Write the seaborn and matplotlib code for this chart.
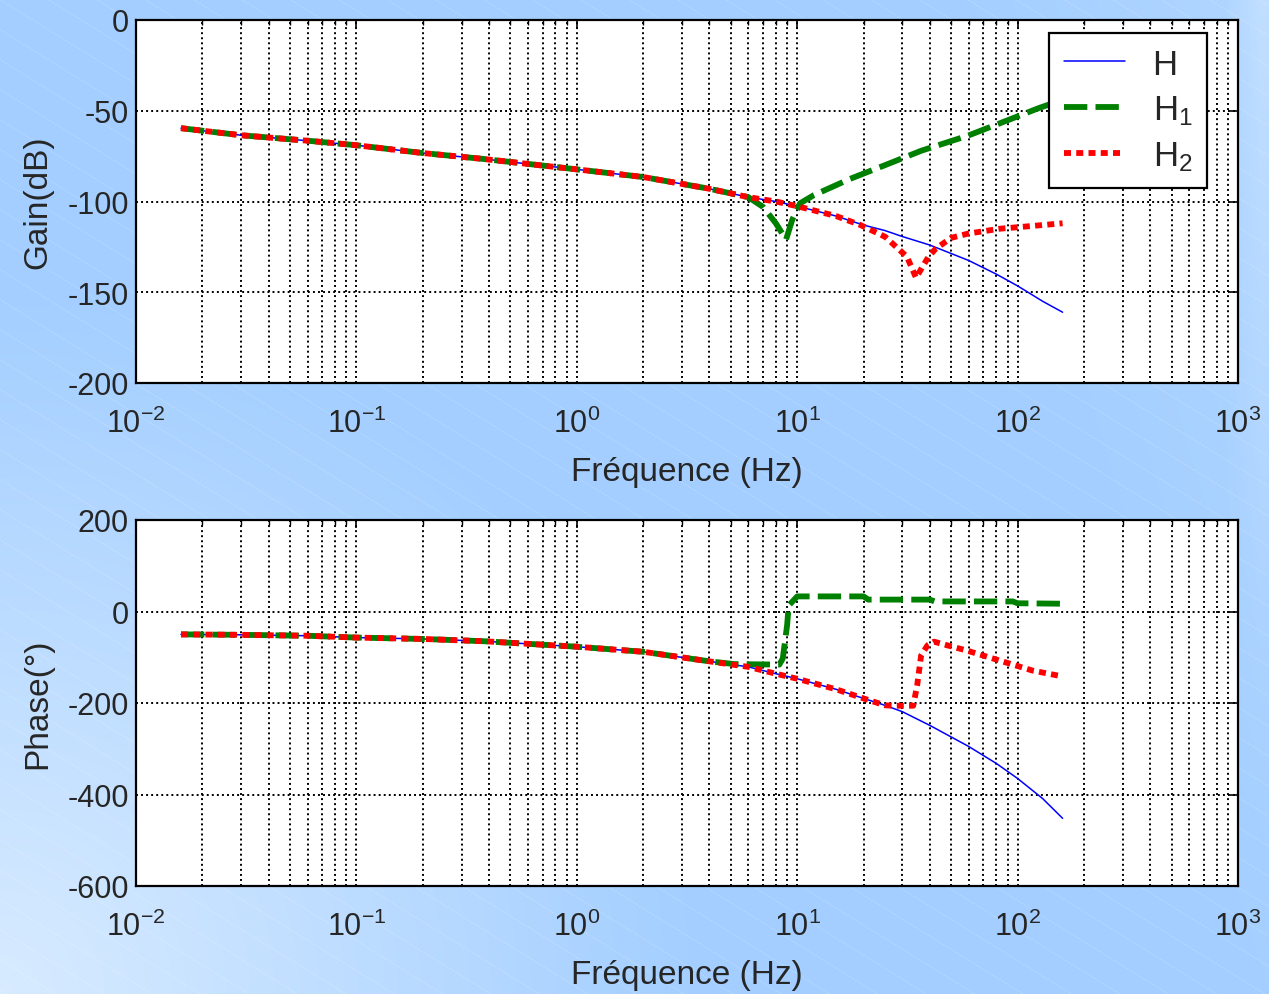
import numpy as np
import matplotlib
matplotlib.use("Agg")
import matplotlib.pyplot as plt
import matplotlib.ticker as mticker
import seaborn as sns

# --- données ---
freq_h = [0.016, 0.03, 0.06, 0.1, 0.2, 0.38, 1, 2, 4, 6, 8, 10, 15, 20, 25, 30, 40, 60, 80, 100, 130, 160]
gain_h = [-59.6, -63.5, -66.5, -69, -73.3, -76.6, -82.3, -86.5, -93, -97.6, -100, -102.6, -108, -113, -116,
          -119.3, -124, -132.5, -140, -146.5, -155, -161]
phase_h = [-50, -51, -53, -57, -60, -65, -77, -88, -109, -121, -136, -147, -170, -190, -205,
           -219, -249, -295, -332, -365, -409, -452]

freq_h1_gain = [0.016, 0.03, 0.06, 0.1, 0.2, 0.38, 1, 2, 4, 6, 7, 8, 8.9, 9.5, 10.3, 11.9, 17.4, 25, 36.6,
                59.6, 93, 125, 160]
gain_h1 = [-59.6, -63.5, -66.5, -69, -73.3, -76.6, -82.3, -86.5, -93, -97.6, -103, -112, -121, -110, -101,
           -96.5, -87.5, -80, -72, -63.7, -54.6, -48.5, -44]

freq_h2_gain = [0.016, 0.03, 0.06, 0.1, 0.2, 0.38, 1, 2, 4, 6, 8, 10, 15, 19.4, 25.1, 31.5, 34.6, 39.4,
                42.5, 50, 59.6, 83, 104, 160]
gain_h2 = [-59.6, -63.5, -66.5, -69, -73.3, -76.6, -82.3, -86.5, -93, -97.6, -100, -102.6, -108, -113,
           -119.5, -130.5, -142, -130.5, -126, -120, -117.7, -115, -114, -112]

freq_h1_phase = [0.016, 0.03, 0.06, 0.1, 0.2, 0.38, 1, 2, 4, 5.2, 8.3, 8.6, 9.0, 9.15, 10, 20, 21, 40, 42,
                 95, 100, 160]
phase_h1 = [-50, -51, -53, -57, -60, -65, -77, -88, -109, -115, -116, -103, -30, 13, 33, 33, 26, 26, 22,
            22, 18, 17]

freq_h2_phase = [0.016, 0.03, 0.06, 0.1, 0.2, 0.38, 1, 2, 4, 6, 8, 10, 15, 20, 25, 27, 33.6, 35, 36.5,
                 39, 41.8, 48, 58.5, 82.6, 116.6, 160]
phase_h2 = [-50, -51, -53, -57, -60, -65, -77, -88, -109, -121, -136, -147, -170, -190, -205, -206, -206,
            -162, -96, -74, -66, -74, -85, -107, -129, -142]

labels = ['H', r'H$_1$', r'H$_2$']

sns.set_style("white")
plt.rcParams['font.family'] = ['Liberation Sans', 'DejaVu Sans']
plt.rcParams['mathtext.fontset'] = 'custom'
plt.rcParams['mathtext.rm'] = 'Liberation Sans'
plt.rcParams['mathtext.it'] = 'Liberation Sans'
plt.rcParams['mathtext.default'] = 'regular'
plt.rcParams['axes.unicode_minus'] = False

W, H = 1269, 995
fig = plt.figure(figsize=(W / 100, H / 100), dpi=100)

# fond dégradé bleu avec fines rayures diagonales
yy, xx = np.mgrid[0:H, 0:W].astype(float)
base = np.array([0.64, 0.81, 1.0])
light = np.array([0.87, 0.935, 1.0])
d_bl = np.sqrt(xx ** 2 + (H - yy) ** 2)
t = np.clip(1 - d_bl / 700, 0, 1) * 0.9
t = np.maximum(t, np.clip((xx - 1200) / 60, 0, 1) * 0.5 * np.clip(1 - yy / 900, 0, 1))
t = np.maximum(t, np.clip((xx + (H - yy) * 0.3 - 1250) / 400, 0, 1) * 0.3)
img = base * (1 - t[..., None]) + light * t[..., None]
stripes = (np.mod(yy - 0.62 * xx, 30) < 1.0).astype(float)
img = img * (1 - 0.15 * stripes[..., None]) + 0.15 * stripes[..., None]
bg = fig.add_axes([0, 0, 1, 1], zorder=-10)
bg.imshow(img, aspect='auto', extent=[0, 1, 0, 1], interpolation='bilinear')
bg.axis('off')

ax1 = fig.add_axes([136 / W, 1 - 384 / H, 1102 / W, 363 / H])
ax2 = fig.add_axes([136 / W, 1 - 887 / H, 1102 / W, 366 / H])

style_h = dict(color='#0000ff', lw=1.1)
style_h1 = dict(color='#008000', lw=4.2, linestyle=(0, (4, 1.4)))
style_h2 = dict(color='#ff0000', lw=4.2, linestyle=(0, (1.2, 0.9)))

sns.lineplot(x=freq_h, y=gain_h, ax=ax1, label=labels[0], estimator=None, sort=False, **style_h)
sns.lineplot(x=freq_h1_gain, y=gain_h1, ax=ax1, label=labels[1], estimator=None, sort=False, **style_h1)
sns.lineplot(x=freq_h2_gain, y=gain_h2, ax=ax1, label=labels[2], estimator=None, sort=False, **style_h2)

sns.lineplot(x=freq_h, y=phase_h, ax=ax2, estimator=None, sort=False, **style_h)
sns.lineplot(x=freq_h1_phase, y=phase_h1, ax=ax2, estimator=None, sort=False, **style_h1)
sns.lineplot(x=freq_h2_phase, y=phase_h2, ax=ax2, estimator=None, sort=False, **style_h2)

for ax, ylim, yticks, ylabel in [(ax1, (-200, 0), [-200, -150, -100, -50, 0], 'Gain(dB)'),
                                 (ax2, (-600, 200), [-600, -400, -200, 0, 200], 'Phase(°)')]:
    ax.set_facecolor('white')
    ax.set_xscale('log')
    ax.set_xlim(1e-2, 1e3)
    ax.set_ylim(*ylim)
    ax.set_yticks(yticks)
    ax.set_yticklabels([str(v) for v in yticks])
    ax.xaxis.set_major_locator(mticker.LogLocator(base=10, numticks=10))
    ax.xaxis.set_minor_locator(mticker.LogLocator(base=10, subs=np.arange(2, 10), numticks=100))
    ax.xaxis.set_minor_formatter(mticker.NullFormatter())
    ax.grid(True, which='major', axis='both', color='black', lw=1.4, linestyle=(0, (1, 1.6)))
    ax.grid(True, which='minor', axis='x', color='black', lw=1.4, linestyle=(0, (1, 1.6)))
    ax.tick_params(which='both', direction='in', top=True, right=True, labelsize=22, color='black')
    ax.tick_params(which='major', length=6, width=1.2)
    ax.tick_params(which='minor', length=3.5, width=1.0)
    ax.tick_params(axis='x', pad=18)
    ax.tick_params(axis='y', pad=5)
    for s in ax.spines.values():
        s.set_color('black')
        s.set_linewidth(1.6)
    ax.set_xlabel('Fréquence (Hz)', fontsize=24)
    ax.set_ylabel(ylabel, fontsize=24)
    ax.xaxis.set_label_coords(0.5, -0.2)
    ax.yaxis.set_label_coords(-0.075, 0.5)

leg = ax1.legend(loc='upper right', bbox_to_anchor=((1207 - 136) / 1102, (384 - 34) / 363),
                 fontsize=25, frameon=True, fancybox=False, framealpha=1, edgecolor='black',
                 handlelength=1.75, handletextpad=0.8, labelspacing=0.36, borderpad=0.42,
                 borderaxespad=0)
leg.get_frame().set_linewidth(1.6)

fig.savefig('out.png', dpi=100)
